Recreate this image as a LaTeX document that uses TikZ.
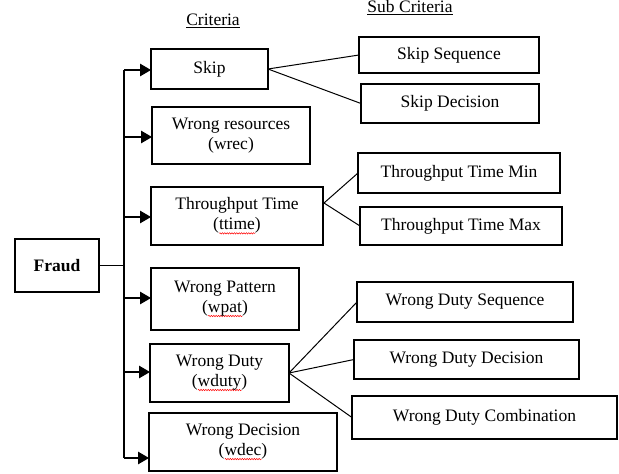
\documentclass[tikz,border=0pt]{standalone}
\usepackage{fontspec}
\setmainfont{Liberation Serif}
\usetikzlibrary{arrows.meta,decorations.pathmorphing}
\newlength\sqw
\newcommand\squig[1]{\settowidth\sqw{#1}\rlap{\tikz[baseline=0pt]\draw[red, line width=0.5pt, decorate, decoration={snake, amplitude=0.7pt, segment length=2.4pt}] (0pt,-3.5pt) -- (\sqw,-3.5pt);}#1}
\tikzset{
  box/.style={draw, line width=2.4pt, outer sep=0pt, inner sep=0pt, align=center,
    font=\fontsize{17.5}{20}\selectfont},
  head/.style={font=\fontsize{17.5}{20}\selectfont, inner sep=0pt},
  conn/.style={line width=1pt},
  arr/.style={line width=1.2pt, -{Triangle[length=11pt,width=12.5pt]}},
}
\begin{document}
\begin{tikzpicture}[x=1pt,y=-1pt]
\useasboundingbox (0,0) rectangle (619,474);
% headings
\node[head] (hcrit) at (213,21) {\underline{Criteria}};
\node[head] (hsub) at (410,8) {\underline{Sub Criteria}};
% root
\node[box, minimum width=84pt, minimum height=53pt, font=\fontsize{17.5}{20}\selectfont\bfseries] (fraud) at (57,265.5) {Fraud};
% criteria
\node[box, minimum width=117pt, minimum height=40pt] (skip) at (209.5,69) {Skip};
\node[box, minimum width=158pt, minimum height=57pt] (wrec) at (231,135.5) {Wrong resources\\(wrec)};
\node[box, minimum width=172pt, minimum height=58pt] (ttime) at (237,216) {Throughput Time\\(\squig{ttime})};
\node[box, minimum width=148pt, minimum height=62pt] (wpat) at (225,299) {Wrong Pattern\\(\squig{wpat})};
\node[box, minimum width=139pt, minimum height=58pt] (wduty) at (219.5,373) {Wrong Duty\\(\squig{wduty})};
\node[box, minimum width=188pt, minimum height=58pt] (wdec) at (243,442) {Wrong Decision\\(\squig{wdec})};
% sub criteria
\node[box, minimum width=180pt, minimum height=36pt] (sseq) at (449,55) {Skip Sequence};
\node[box, minimum width=178pt, minimum height=39pt] (sdec) at (450,103.5) {Skip Decision};
\node[box, minimum width=202pt, minimum height=40pt] (ttmin) at (459,173) {Throughput Time Min};
\node[box, minimum width=202pt, minimum height=38pt] (ttmax) at (461,226) {Throughput Time Max};
\node[box, minimum width=216pt, minimum height=40pt] (wds) at (465,302) {Wrong Duty Sequence};
\node[box, minimum width=225pt, minimum height=39pt] (wdd) at (466.5,359.5) {Wrong Duty Decision};
\node[box, minimum width=265pt, minimum height=43pt] (wdc) at (484.5,417.5) {Wrong Duty Combination};
% spine
\coordinate (s1) at (124,70);
\coordinate (s2) at (124,137);
\coordinate (s3) at (124,217);
\coordinate (sf) at (124,265.5);
\coordinate (s4) at (124,298);
\coordinate (s5) at (124,372);
\coordinate (s6) at (124,458);
\draw[conn, line width=1.2pt] (s1) -- (s6);
\draw[conn, line width=1.2pt] (fraud.east) -- (sf);
\draw[arr] (s1) -- (s1 -| skip.west);
\draw[arr] (s2) -- (s2 -| wrec.west);
\draw[arr] (s3) -- (s3 -| ttime.west);
\draw[arr] (s4) -- (s4 -| wpat.west);
\draw[arr] (s5) -- (s5 -| wduty.west);
\draw[arr] (s6) -- (s6 -| wdec.west);
% sub connectors
\draw[conn] (skip.east) -- (sseq.west);
\draw[conn] (skip.east) -- (sdec.west);
\coordinate (ttfork) at (324,203);
\draw[conn] (ttfork) -- (ttmin.west);
\draw[conn] (ttfork) -- (ttmax.west);
\draw[conn] (wduty.east) -- (wds.west);
\draw[conn] (wduty.east) -- (wdd.west);
\draw[conn] (wduty.east) -- (wdc.west);
\end{tikzpicture}
\end{document}
